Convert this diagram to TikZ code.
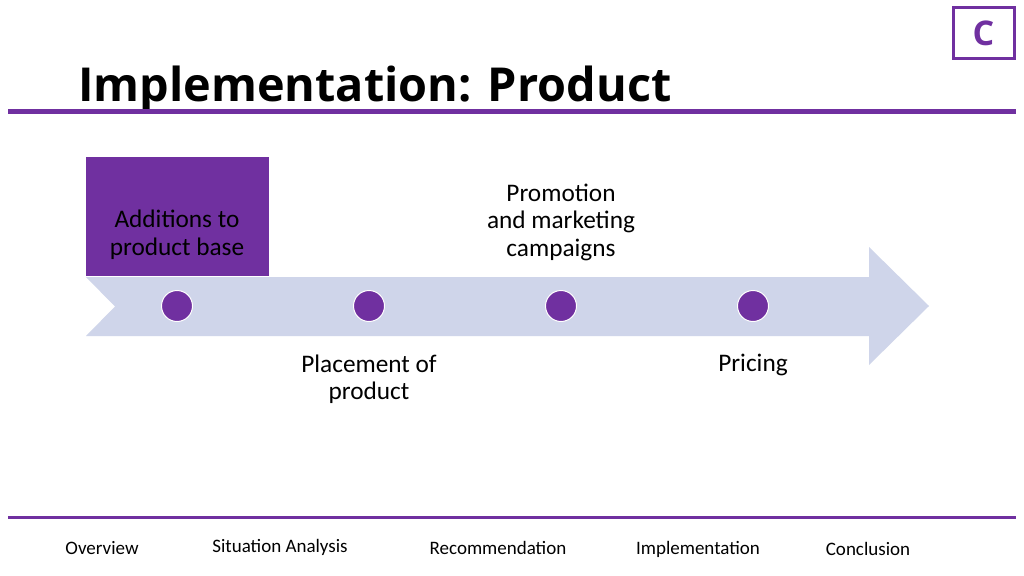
\documentclass[tikz,border=0pt]{standalone}
\usepackage{fontspec}
\setmainfont{Carlito}
\newfontfamily\titlefont{Open Sans}
\definecolor{purp}{HTML}{7030A0}
\definecolor{arrowc}{HTML}{CFD5EA}
\begin{document}
\begin{tikzpicture}[x=1pt,y=-1pt,
  body/.style={font=\fontsize{25.3}{27.5}\selectfont, align=center, text=black},
  foot/.style={font=\fontsize{19}{21}\selectfont, text=black},
  dot/.style={circle, fill=purp, draw=white, line width=1pt, minimum size=31pt, inner sep=0pt}]
\useasboundingbox (0,0) rectangle (1024,575);
\fill[white] (0,0) rectangle (1024,575);
% corner box
\node[draw=purp, line width=3pt, minimum width=61pt, minimum height=51pt, inner sep=0pt,
  text=purp, font=\titlefont\bfseries\fontsize{34}{34}\selectfont] (cbox) at (983.5,33.5) {C};
% title
\node[anchor=base west, inner sep=0pt, font=\titlefont\bfseries\fontsize{46.8}{46.8}\selectfont] (title) at (78,102) {Implementation: Product};
\draw[purp, line width=5pt] (8,112) -- (1016,112);
% arrow
\fill[arrowc] (86,277) -- (869,277) -- (869,247) -- (929,306) -- (869,365) -- (869,336) -- (86,336) -- (115,306.5) -- cycle;
% purple box
\node[fill=purp, minimum width=183pt, minimum height=119pt, inner sep=0pt] (pbox) at (177.5,216.5) {};
\node[body] (t1) at (177,235) {Additions to\\product base};
% dots
\node[dot] (d1) at (177,306) {};
\node[dot] (d2) at (369,306) {};
\node[dot] (d3) at (561,306) {};
\node[dot] (d4) at (753,306) {};
\node[body, anchor=north] (t3) at (561,180) {Promotion\\and marketing\\campaigns};
\node[body, anchor=north] (t2) at (369,351) {Placement of\\product};
\node[body, anchor=north] (t4) at (753,351) {Pricing};
% footer
\draw[purp, line width=3pt] (8,517) -- (1016,517);
\node[foot] (f1) at (102,548) {Overview};
\node[foot] (f2) at (280,547) {Situation Analysis};
\node[foot] (f3) at (498,548) {Recommendation};
\node[foot] (f4) at (698,549) {Implementation};
\node[foot] (f5) at (868,549) {Conclusion};
\end{tikzpicture}
\end{document}
